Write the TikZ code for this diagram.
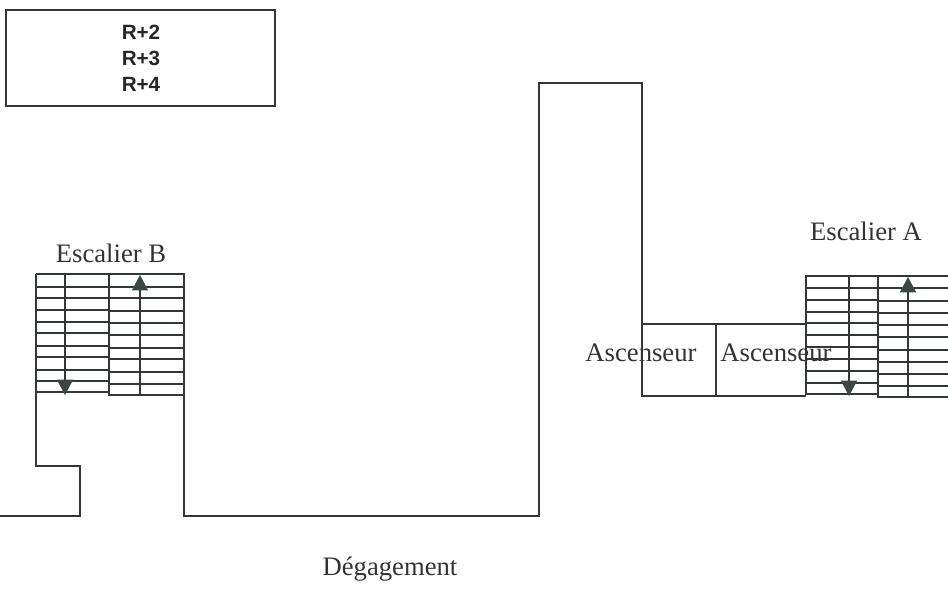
\documentclass[tikz,border=0pt]{standalone}
\usepackage{fontspec}
\setmainfont{Liberation Serif}
\setsansfont{Liberation Sans}
\usetikzlibrary{arrows.meta, positioning}
\definecolor{trait}{HTML}{333836}
\definecolor{fleche}{HTML}{3A4845}
\tikzset{
    mur/.style={draw=trait, line width=1.05pt, line join=miter},
    marche/.style={draw=trait, line width=1.05pt},
    sens/.style={draw=trait, line width=1.05pt, -{Triangle[width=12pt,length=11.5pt,color=fleche]}},
    legende/.style={text=black!80, font=\fontsize{20}{24}\selectfont, inner sep=0pt},
    niveau/.style={text=black!85, font=\sffamily\bfseries\fontsize{15.5}{19.5}\selectfont, align=center, inner sep=0pt}
}
\begin{document}
\begin{tikzpicture}[x=0.75pt,y=-0.75pt]
    \useasboundingbox (0,0) rectangle (948,610);

    % cartouche
    \draw[mur] (6,10) rectangle (275,106);
    \node[niveau] (Niveaux) at (141,58) {R+2\\R+3\\R+4};

    % murs
    \draw[mur] (36,392) -- (36,466) -- (80,466) -- (80,516) -- (0,516);
    \draw[mur] (184,395) -- (184,516) -- (539,516) -- (539,83) -- (642,83) -- (642,396) -- (806,396);
    \draw[mur] (642,324) -- (806,324);
    \draw[mur] (716,324) -- (716,396);

    % escalier B
    \draw[mur] (36,274) -- (184,274) -- (184,395) -- (109,395) -- (109,274);
    \draw[mur] (36,274) -- (36,392) -- (109,392);
    \foreach \y in {287,298,310,322,333,346,357,370,381}
        \draw[marche] (36,\y) -- (109,\y);
    \foreach \y in {287,298,311,323,335,348,359,372,384}
        \draw[marche] (109,\y) -- (184,\y);
    \coordinate (B1) at (65,274);
    \coordinate (B2) at (65,395);
    \coordinate (B3) at (140,395);
    \coordinate (B4) at (140,275);
    \draw[sens] (B1) -- (B2);
    \draw[sens] (B3) -- (B4);

    % escalier A
    \draw[mur] (948,276) -- (806,276) -- (806,394) -- (878,394);
    \draw[mur] (878,276) -- (878,397) -- (948,397);
    \foreach \y in {288,300,312,323,335,347,359,371,383}
        \draw[marche] (806,\y) -- (878,\y);
    \foreach \y in {288,301,313,325,337,350,362,374,386}
        \draw[marche] (878,\y) -- (948,\y);
    \coordinate (A1) at (849,276);
    \coordinate (A2) at (849,396);
    \coordinate (A3) at (908,397);
    \coordinate (A4) at (908,277);
    \draw[sens] (A1) -- (A2);
    \draw[sens] (A3) -- (A4);

    % textes
    \node[legende] (EscB) at (111,253) {Escalier B};
    \node[legende] (EscA) at (866,231) {Escalier A};
    \node[legende] (Asc1) at (641,353) {Ascenseur};
    \node[legende] (Asc2) at (776,353) {Ascenseur};
    \node[legende] (Deg) at (390,569) {Dégagement};
\end{tikzpicture}
\end{document}
